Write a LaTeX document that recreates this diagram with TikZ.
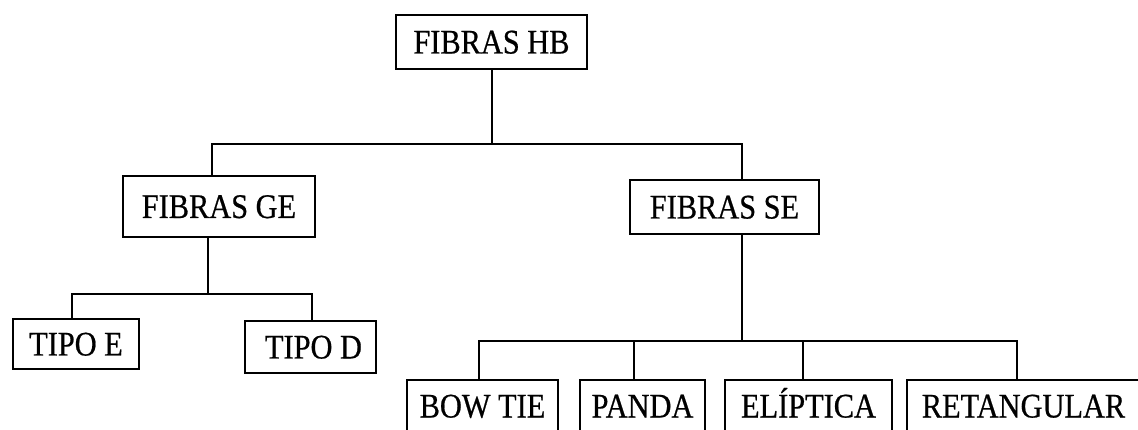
\documentclass[tikz,border=0pt]{standalone}
\usepackage{fontspec}
\setmainfont{Liberation Serif}
\newfontfamily\boxfont[FakeStretch=0.88,FakeBold=0.6]{Liberation Serif}
\begin{document}
\begin{tikzpicture}[x=1pt,y=-1pt,
  box/.style={draw, line width=1.3pt, inner sep=0pt, text height=23pt, text depth=0pt,
    font=\boxfont\fontsize{34.5}{34.5}\selectfont},
  link/.style={line width=1.3pt}]
\useasboundingbox (0,0) rectangle (1138,430);
\clip (0,0) rectangle (1138,430);
\fill[white] (0,0) rectangle (1138,430);
% nodes
\node[box, minimum width=191pt, minimum height=54pt] (hb) at (491.5,42) {FIBRAS HB};
\node[box, minimum width=192pt, minimum height=61pt] (ge) at (219,206.5) {FIBRAS GE};
\node[box, minimum width=189pt, minimum height=54pt] (se) at (724.5,207) {FIBRAS SE};
\node[box, minimum width=126pt, minimum height=50pt] (te) at (76,344) {TIPO E};
\node[box, minimum width=131pt, minimum height=52pt] (td) at (310.5,347) {\hspace{6pt}TIPO D};
\node[box, minimum width=151pt, minimum height=52pt] (bt) at (482.5,406) {BOW TIE};
\node[box, minimum width=125pt, minimum height=52pt] (pa) at (642.5,406) {PANDA};
\node[box, minimum width=167pt, minimum height=52pt] (el) at (808.5,406) {ELÍPTICA};
\node[box, minimum width=233pt, minimum height=52pt] (re) at (1023.5,406) {RETANGULAR};
% bus coordinates
\coordinate (b1) at (492,144);
\coordinate (gx) at (212,144);
\coordinate (sx) at (742,144);
\coordinate (g1) at (208,294);
\coordinate (tex) at (72,294);
\coordinate (tdx) at (312,294);
\coordinate (s1) at (742,341);
\coordinate (btx) at (479,341);
\coordinate (pax) at (634,341);
\coordinate (elx) at (803,341);
\coordinate (rex) at (1017,341);
% connectors
\draw[link] (hb.south -| b1) -- (b1);
\draw[link] (ge.north -| gx) -- (gx) -- (sx) -- (se.north -| sx);
\draw[link] (ge.south -| g1) -- (g1);
\draw[link] (te.north -| tex) -- (tex) -- (tdx) -- (td.north -| tdx);
\draw[link] (se.south -| s1) -- (s1);
\draw[link] (bt.north -| btx) -- (btx) -- (rex) -- (re.north -| rex);
\draw[link] (pa.north -| pax) -- (pax);
\draw[link] (el.north -| elx) -- (elx);
\end{tikzpicture}
\end{document}
